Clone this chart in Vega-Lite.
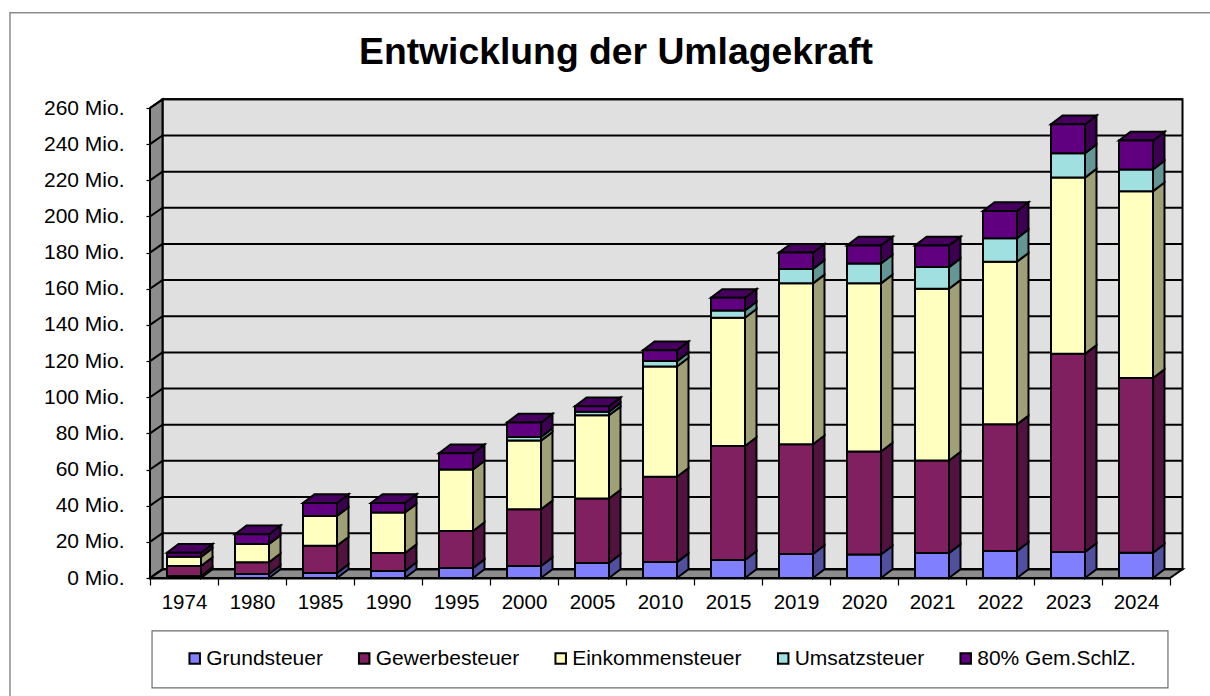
{
"$schema":"https://vega.github.io/schema/vega-lite/v6.json",
"width":1020,"height":470,
"autosize":{"type":"none"},
"padding":{"left":150,"top":108,"right":40,"bottom":118},
"background":"white",
"config":{"font":"Liberation Sans","view":{"stroke":null}},
"title":{"text":"Entwicklung der Umlagekraft","font":"Liberation Sans","fontSize":37.3,"fontWeight":"bold","color":"black","anchor":"middle","frame":"group","dx":-44,"offset":0,"dy":60},
"datasets":{
"taxes":[
{"year":"1974","series":"Grundsteuer","value":1.1},{"year":"1974","series":"Gewerbesteuer","value":5.5},{"year":"1974","series":"Einkommensteuer","value":5.1},{"year":"1974","series":"80% Gem.SchlZ.","value":2.3},
{"year":"1980","series":"Grundsteuer","value":2.2},{"year":"1980","series":"Gewerbesteuer","value":6.5},{"year":"1980","series":"Einkommensteuer","value":10.1},{"year":"1980","series":"80% Gem.SchlZ.","value":5.4},
{"year":"1985","series":"Grundsteuer","value":2.8},{"year":"1985","series":"Gewerbesteuer","value":15.1},{"year":"1985","series":"Einkommensteuer","value":16.4},{"year":"1985","series":"80% Gem.SchlZ.","value":7.2},
{"year":"1990","series":"Grundsteuer","value":3.9},{"year":"1990","series":"Gewerbesteuer","value":9.9},{"year":"1990","series":"Einkommensteuer","value":22.4},{"year":"1990","series":"80% Gem.SchlZ.","value":5.3},
{"year":"1995","series":"Grundsteuer","value":5.5},{"year":"1995","series":"Gewerbesteuer","value":20.5},{"year":"1995","series":"Einkommensteuer","value":34},{"year":"1995","series":"80% Gem.SchlZ.","value":9},
{"year":"2000","series":"Grundsteuer","value":6.6},{"year":"2000","series":"Gewerbesteuer","value":31.4},{"year":"2000","series":"Einkommensteuer","value":38},{"year":"2000","series":"Umsatzsteuer","value":2},{"year":"2000","series":"80% Gem.SchlZ.","value":8},
{"year":"2005","series":"Grundsteuer","value":8.3},{"year":"2005","series":"Gewerbesteuer","value":35.7},{"year":"2005","series":"Einkommensteuer","value":46},{"year":"2005","series":"Umsatzsteuer","value":2},{"year":"2005","series":"80% Gem.SchlZ.","value":3},
{"year":"2010","series":"Grundsteuer","value":8.8},{"year":"2010","series":"Gewerbesteuer","value":47.2},{"year":"2010","series":"Einkommensteuer","value":61},{"year":"2010","series":"Umsatzsteuer","value":3},{"year":"2010","series":"80% Gem.SchlZ.","value":6},
{"year":"2015","series":"Grundsteuer","value":10},{"year":"2015","series":"Gewerbesteuer","value":63},{"year":"2015","series":"Einkommensteuer","value":71},{"year":"2015","series":"Umsatzsteuer","value":4},{"year":"2015","series":"80% Gem.SchlZ.","value":7},
{"year":"2019","series":"Grundsteuer","value":13.3},{"year":"2019","series":"Gewerbesteuer","value":60.7},{"year":"2019","series":"Einkommensteuer","value":89},{"year":"2019","series":"Umsatzsteuer","value":8},{"year":"2019","series":"80% Gem.SchlZ.","value":9},
{"year":"2020","series":"Grundsteuer","value":13},{"year":"2020","series":"Gewerbesteuer","value":57},{"year":"2020","series":"Einkommensteuer","value":93},{"year":"2020","series":"Umsatzsteuer","value":11},{"year":"2020","series":"80% Gem.SchlZ.","value":10},
{"year":"2021","series":"Grundsteuer","value":13.8},{"year":"2021","series":"Gewerbesteuer","value":51.2},{"year":"2021","series":"Einkommensteuer","value":95},{"year":"2021","series":"Umsatzsteuer","value":12},{"year":"2021","series":"80% Gem.SchlZ.","value":12},
{"year":"2022","series":"Grundsteuer","value":15},{"year":"2022","series":"Gewerbesteuer","value":70},{"year":"2022","series":"Einkommensteuer","value":90},{"year":"2022","series":"Umsatzsteuer","value":13},{"year":"2022","series":"80% Gem.SchlZ.","value":15},
{"year":"2023","series":"Grundsteuer","value":14.4},{"year":"2023","series":"Gewerbesteuer","value":109.6},{"year":"2023","series":"Einkommensteuer","value":97.5},{"year":"2023","series":"Umsatzsteuer","value":13.5},{"year":"2023","series":"80% Gem.SchlZ.","value":16},
{"year":"2024","series":"Grundsteuer","value":14},{"year":"2024","series":"Gewerbesteuer","value":96.6},{"year":"2024","series":"Einkommensteuer","value":103.4},{"year":"2024","series":"Umsatzsteuer","value":12},{"year":"2024","series":"80% Gem.SchlZ.","value":16}
],
"ticks":[{"tick":0},{"tick":20},{"tick":40},{"tick":60},{"tick":80},{"tick":100},{"tick":120},{"tick":140},{"tick":160},{"tick":180},{"tick":200},{"tick":220},{"tick":240},{"tick":260}],
"depth":[{"depth":0},{"depth":1}]
},
"data":{"name":"taxes"},
"transform":[
{"calculate":"indexof(['Grundsteuer','Gewerbesteuer','Einkommensteuer','Umsatzsteuer','80% Gem.SchlZ.'],datum.series)","as":"order"},
{"stack":"value","groupby":["year"],"sort":[{"field":"order"}],"as":["lo","hi"]},
{"window":[{"op":"dense_rank","as":"rank"}],"sort":[{"field":"year"}]},
{"calculate":"datum.rank-0.5","as":"mid"},
{"calculate":"[0,1]","as":"depth"},
{"flatten":["depth"]},
{"calculate":"datum.mid+0.25+datum.depth*0.169","as":"sx"},
{"calculate":"datum.mid-0.25+datum.depth*0.169","as":"tx"},
{"calculate":"datum.lo+datum.depth*4.8","as":"slo"},
{"calculate":"datum.hi+datum.depth*4.8","as":"shi"}
],
"layer":[
{"data":{"values":[{"frame":"outer"}]},"transform":[],"mark":{"type":"rect","filled":false,"stroke":"#8c8c8c","strokeWidth":1.5},
 "encoding":{"x":{"datum":-2.059,"type":"quantitative","scale":{"domain":[0,15]},"axis":null},"x2":{"datum":20},"y":{"datum":312.7,"type":"quantitative","scale":{"domain":[0,260]},"axis":null},"y2":{"datum":-100}}},
{"data":{"values":[{"frame":"legend"}]},"transform":[],"mark":{"type":"rect","filled":false,"stroke":"#6e6e6e","strokeWidth":1.2},
 "encoding":{"x":{"datum":0.03,"type":"quantitative","scale":{"domain":[0,15]},"axis":null},"x2":{"datum":14.97},"y":{"datum":-29.3,"type":"quantitative","scale":{"domain":[0,260]},"axis":null},"y2":{"datum":-60.8}}},
{"data":{"values":[{"frame":"wall"}]},"transform":[],"mark":{"type":"rect","fill":"#e0e0e0","stroke":"black","strokeWidth":2},
 "encoding":{"x":{"datum":0.184,"type":"quantitative","scale":{"domain":[0,15]},"axis":null},"x2":{"datum":15.184},"y":{"datum":4.8,"type":"quantitative","scale":{"domain":[0,260]},"axis":null},"y2":{"datum":264.8}}},
{"data":{"name":"depth"},"transform":[{"calculate":"datum.depth*0.184","as":"wx"},{"calculate":"datum.depth*4.8","as":"wlo"},{"calculate":"260+datum.depth*4.8","as":"whi"}],
 "mark":{"type":"area","fill":"#8c8c8c","stroke":"black","strokeWidth":2},
 "encoding":{"x":{"field":"wx","type":"quantitative","scale":{"domain":[0,15]},"axis":null},"y":{"field":"wlo","type":"quantitative","scale":{"domain":[0,260]},"stack":null,"axis":null},"y2":{"field":"whi"}}},
{"data":{"name":"depth"},"transform":[{"calculate":"datum.depth*0.184","as":"fx"},{"calculate":"15+datum.depth*0.184","as":"fx2"},{"calculate":"datum.depth*4.8","as":"fy"}],
 "mark":{"type":"area","orient":"horizontal","fill":"#8c8c8c","stroke":"black","strokeWidth":2},
 "encoding":{"y":{"field":"fy","type":"quantitative","scale":{"domain":[0,260]},"axis":null},"x":{"field":"fx","type":"quantitative","scale":{"domain":[0,15]},"axis":null,"stack":null},"x2":{"field":"fx2"}}},
{"data":{"name":"ticks"},"transform":[{"calculate":"datum.tick+4.8","as":"back"}],"mark":{"type":"rule","color":"black","strokeWidth":2},
 "encoding":{"x":{"datum":0.184,"type":"quantitative","scale":{"domain":[0,15]},"axis":null},"x2":{"datum":15.184},"y":{"field":"back","type":"quantitative","scale":{"domain":[0,260]},"axis":null}}},
{"data":{"name":"ticks"},"transform":[{"calculate":"datum.tick+4.8","as":"back"}],"mark":{"type":"rule","color":"black","strokeWidth":2},
 "encoding":{"x":{"datum":0,"type":"quantitative","scale":{"domain":[0,15]},"axis":null},"x2":{"datum":0.184},"y":{"field":"tick","type":"quantitative","scale":{"domain":[0,260]},"axis":{"values":[0,20,40,60,80,100,120,140,160,180,200,220,240,260],"title":null,"grid":false,"labelExpr":"datum.value+' Mio.'","labelFont":"Liberation Sans","labelFontSize":21,"labelColor":"black","labelPadding":22,"labelOverlap":false,"tickSize":4,"tickColor":"black","tickWidth":1.2,"domain":false}},"y2":{"field":"back"}}},
{"mark":{"type":"area","stroke":"black","strokeWidth":2},
 "encoding":{"x":{"field":"sx","type":"quantitative","scale":{"domain":[0,15]},"axis":null},"y":{"field":"slo","type":"quantitative","scale":{"domain":[0,260]},"stack":null,"axis":null},"y2":{"field":"shi"},
 "fill":{"field":"series","type":"nominal","legend":null,"scale":{"domain":["Grundsteuer","Gewerbesteuer","Einkommensteuer","Umsatzsteuer","80% Gem.SchlZ."],"range":["#50509f","#501340","#a0a078","#649696","#3c0050"]}},"detail":{"field":"year"}}},
{"transform":[{"filter":"datum.series==='80% Gem.SchlZ.'"}],"mark":{"type":"area","orient":"horizontal","fill":"#480060","stroke":"black","strokeWidth":2},
 "encoding":{"y":{"field":"shi","type":"quantitative","scale":{"domain":[0,260]},"axis":null},"x":{"field":"tx","type":"quantitative","scale":{"domain":[0,15]},"axis":null,"stack":null},"x2":{"field":"sx"},"detail":{"field":"year"}}},
{"transform":[{"filter":"datum.depth===0"}],"mark":{"type":"bar","width":{"band":0.5},"stroke":"black","strokeWidth":2},
 "encoding":{"x":{"field":"year","type":"ordinal","sort":null,"scale":{"paddingInner":0,"paddingOuter":0},"axis":{"title":null,"labelAngle":0,"labelFont":"Liberation Sans","labelFontSize":20.5,"labelColor":"black","labelPadding":7,"tickBand":"extent","tickSize":7,"tickColor":"black","tickWidth":1.2,"domainColor":"black","domainWidth":2}},
 "y":{"field":"lo","type":"quantitative","scale":{"domain":[0,260]},"stack":null,"axis":null},"y2":{"field":"hi"},
 "fill":{"field":"series","type":"nominal","scale":{"domain":["Grundsteuer","Gewerbesteuer","Einkommensteuer","Umsatzsteuer","80% Gem.SchlZ."],"range":["#8080ff","#802060","#ffffc0","#a0e0e0","#600080"]},
 "legend":{"title":null,"orient":"none","legendX":34.2,"legendY":540,"direction":"horizontal","columns":5,"gridAlign":"none","columnPadding":30.5,"symbolType":"square","symbolSize":110,"symbolStrokeColor":"black","symbolStrokeWidth":2,"labelFont":"Liberation Sans","labelFontSize":21,"labelColor":"black","labelOffset":1,"labelLimit":400,"symbolOpacity":1}}}}
],
"resolve":{"scale":{"x":"independent","fill":"independent"},"axis":{"x":"independent","y":"independent"}}
}
